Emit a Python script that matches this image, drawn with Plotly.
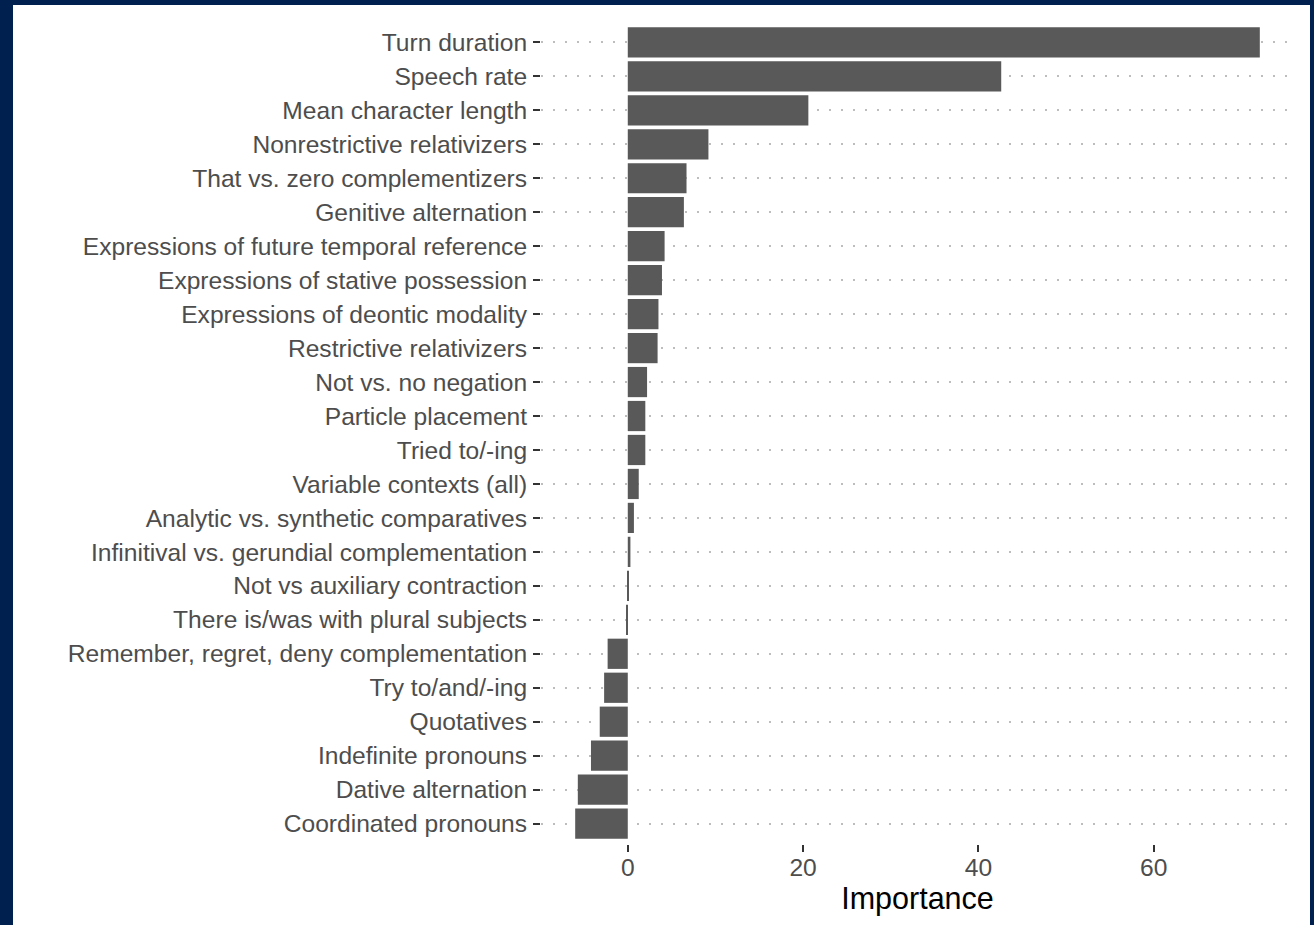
import plotly.graph_objects as go

features = [
    "Turn duration", "Speech rate", "Mean character length",
    "Nonrestrictive relativizers", "That vs. zero complementizers",
    "Genitive alternation", "Expressions of future temporal reference",
    "Expressions of stative possession", "Expressions of deontic modality",
    "Restrictive relativizers", "Not vs. no negation", "Particle placement",
    "Tried to/-ing", "Variable contexts (all)",
    "Analytic vs. synthetic comparatives",
    "Infinitival vs. gerundial complementation",
    "Not vs auxiliary contraction", "There is/was with plural subjects",
    "Remember, regret, deny complementation", "Try to/and/-ing",
    "Quotatives", "Indefinite pronouns", "Dative alternation",
    "Coordinated pronouns",
]
importance = [
    72.1, 42.6, 20.6, 9.2, 6.7, 6.4, 4.2, 3.9, 3.5, 3.4, 2.2, 2.0, 2.0,
    1.25, 0.7, 0.3, 0.12, -0.12, -2.3, -2.7, -3.2, -4.2, -5.7, -6.0,
]
x_ticks = [0, 20, 40, 60]

W, H = 1314, 925
ml, mr, mt, mb = 541, W - 1294, 22, 925 - 844
pw, ph = W - ml - mr, H - mt - mb

def px_x(p):
    return (p - ml) / pw

def px_y(p):
    return 1 - (p - mt) / ph

fig = go.Figure()
fig.add_trace(go.Bar(
    x=importance, y=features, orientation="h",
    marker=dict(color="#595959", line=dict(color="#595959", width=0)),
    hoverinfo="x+y",
))

fig.update_layout(
    width=W, height=H,
    margin=dict(l=ml, r=mr, t=mt, b=mb, pad=0),
    paper_bgcolor="#00214f",
    plot_bgcolor="rgba(0,0,0,0)",
    bargap=0.11,
    showlegend=False,
    font=dict(family="Liberation Sans, Arial, sans-serif", size=24.6, color="#4d4d4d"),
    shapes=[dict(
        type="rect", xref="paper", yref="paper", layer="below",
        x0=px_x(13), x1=px_x(1310), y0=px_y(H + 5), y1=px_y(5),
        fillcolor="white", line=dict(width=0),
    )],
    xaxis=dict(
        range=[-9.9, 76.0], tickvals=x_ticks, showgrid=False, zeroline=False,
        ticks="outside", ticklen=7, tickwidth=2, tickcolor="#333333",
        tickfont=dict(size=24.6, color="#4d4d4d"), showline=False,
        ticklabelstandoff=-6,
        title=dict(text="Importance", font=dict(size=30.5, color="black"), standoff=2),
    ),
    yaxis=dict(
        categoryorder="array", categoryarray=features,
        range=[len(features) - 0.4, -0.6],
        showgrid=True, gridcolor="#bdbdbd", gridwidth=2, griddash="2px,10px",
        zeroline=False, showline=False,
        ticks="outside", ticklen=7, tickwidth=2, tickcolor="#333333",
        tickfont=dict(size=24.6, color="#4d4d4d"), ticklabelstandoff=1,
    ),
)

fig.write_html("out.html", config={"displayModeBar": False},
               post_script="document.body.style.margin='0';")
